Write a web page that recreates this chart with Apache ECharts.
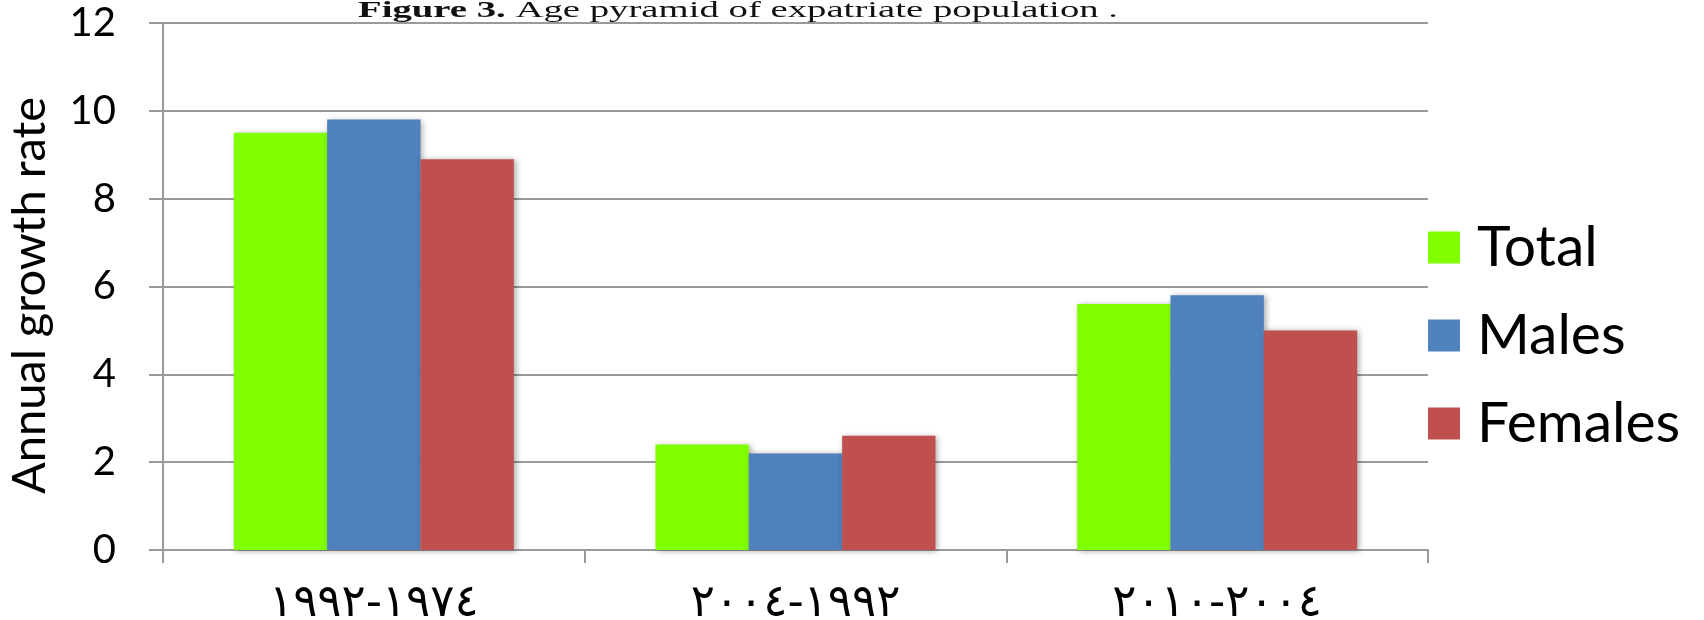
<!DOCTYPE html>
<html>
<head>
<meta charset="utf-8">
<script src="https://cdn.jsdelivr.net/npm/echarts@6/dist/echarts.min.js"></script>
<style>
  html, body { margin: 0; padding: 0; background: #ffffff; }
  #chart { width: 1704px; height: 620px; }
</style>
</head>
<body>
<div id="chart"></div>
<script>
// Periods (Arabic-Indic digits, written in reading order)
const categories = ['١٩٧٤-١٩٩٢', '١٩٩٢-٢٠٠٤', '٢٠٠٤-٢٠١٠'];
// Annual growth rate per period
const totalValues = [9.5, 2.4, 5.6];
const maleValues = [9.8, 2.2, 5.8];
const femaleValues = [8.9, 2.6, 5.0];
const seriesNames = ['Total', 'Males', 'Females'];
const yAxisName = 'Annual growth rate';
const titleBold = 'Figure 3.';
const titleRest = ' Age pyramid of expatriate population .';

const colors = ['#80FF00', '#4F81BD', '#C0504D'];
const gridColor = '#9a9a9a';
const sansFont = 'Lato, "Open Sans", sans-serif';

const chart = echarts.init(document.getElementById('chart'), null, { renderer: 'canvas' });

// Stretch the caption horizontally to its printed width
const captionSize = 24;
const measureCtx = document.createElement('canvas').getContext('2d');
measureCtx.font = 'bold ' + captionSize + 'px "Liberation Serif"';
let captionWidth = measureCtx.measureText(titleBold).width;
measureCtx.font = captionSize + 'px "Liberation Serif"';
captionWidth += measureCtx.measureText(titleRest).width;
const captionScale = 760 / captionWidth;

function barSeries(name, data, color) {
  return {
    name: name,
    type: 'bar',
    data: data,
    barGap: '0%',
    barCategoryGap: '33.6%',
    itemStyle: {
      color: color,
      shadowColor: 'rgba(0,0,0,0.35)',
      shadowBlur: 6,
      shadowOffsetX: 2,
      shadowOffsetY: 1
    }
  };
}

chart.setOption({
  animation: false,
  backgroundColor: '#ffffff',
  grid: { left: 163, right: 276, top: 23, bottom: 70, containLabel: false, outerBoundsMode: 'none' },
  graphic: [{
    type: 'text',
    x: 358,
    y: -1,
    scaleX: captionScale,
    scaleY: 1,
    z: 10,
    style: {
      text: '{b|' + titleBold + '}{n|' + titleRest + '}',
      verticalAlign: 'top',
      rich: {
        b: { fontFamily: '"Liberation Serif", serif', fontWeight: 'bold', fontSize: captionSize, lineHeight: captionSize, fill: '#111' },
        n: { fontFamily: '"Liberation Serif", serif', fontWeight: 'normal', fontSize: captionSize, lineHeight: captionSize, fill: '#111' }
      }
    }
  }],
  legend: {
    orient: 'vertical',
    left: 1428,
    top: 219,
    padding: 0,
    itemWidth: 32,
    itemHeight: 32,
    itemGap: 31,
    icon: 'rect',
    data: seriesNames,
    textStyle: {
      fontFamily: sansFont,
      fontSize: 57,
      lineHeight: 56,
      color: '#000',
      padding: [0, 0, 0, 12]
    }
  },
  xAxis: {
    type: 'category',
    data: categories,
    axisLine: { show: true, lineStyle: { color: gridColor, width: 2 } },
    axisTick: { show: true, length: 13, lineStyle: { color: gridColor, width: 2 } },
    axisLabel: {
      margin: 32,
      fontFamily: '"DejaVu Sans", sans-serif',
      fontSize: 45,
      fontWeight: 'normal',
      color: '#000'
    }
  },
  yAxis: {
    type: 'value',
    min: 0,
    max: 12,
    interval: 2,
    name: yAxisName,
    nameLocation: 'middle',
    nameRotate: 90,
    nameGap: 110,
    nameTextStyle: { fontFamily: sansFont, fontSize: 47, color: '#000', padding: [0, 18, 0, 0] },
    axisLine: { show: true, lineStyle: { color: gridColor, width: 2 } },
    axisTick: { show: true, length: 14, lineStyle: { color: gridColor, width: 2 } },
    splitLine: { show: true, lineStyle: { color: gridColor, width: 2 } },
    axisLabel: {
      margin: 47,
      fontFamily: sansFont,
      fontSize: 40,
      color: '#000'
    }
  },
  series: [
    barSeries(seriesNames[0], totalValues, colors[0]),
    barSeries(seriesNames[1], maleValues, colors[1]),
    barSeries(seriesNames[2], femaleValues, colors[2])
  ]
});
</script>
</body>
</html>
